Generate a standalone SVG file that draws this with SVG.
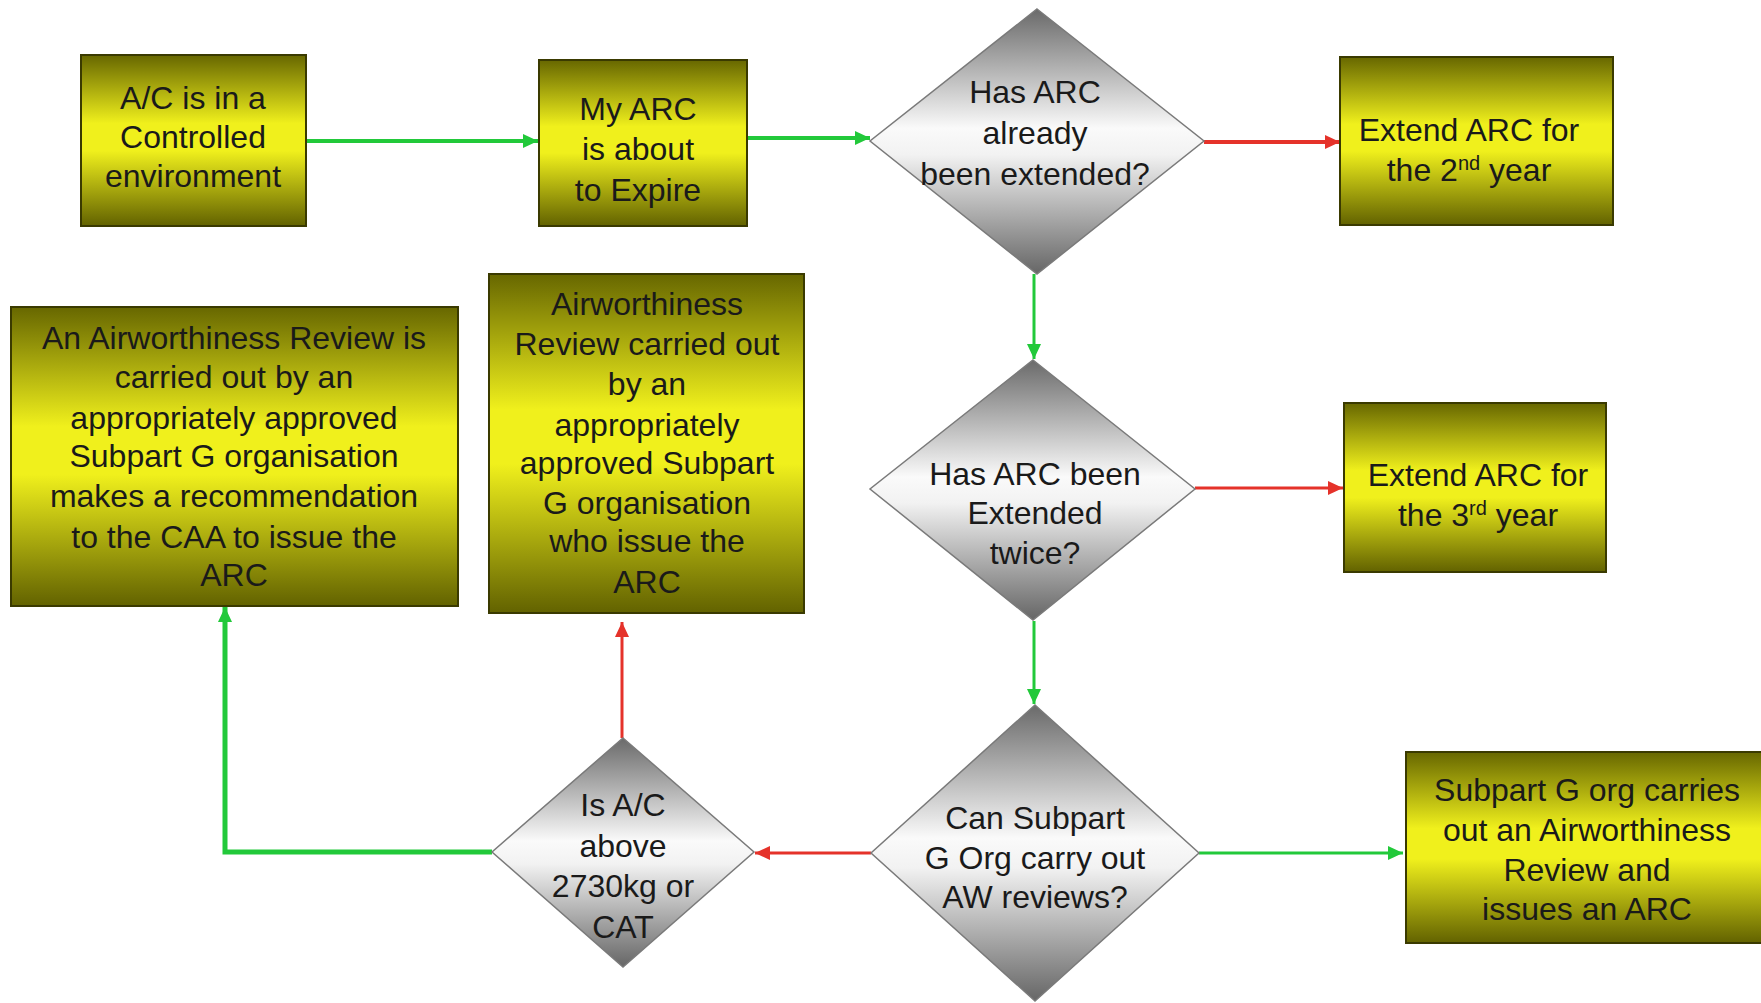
<svg xmlns="http://www.w3.org/2000/svg" width="1761" height="1003" viewBox="0 0 1761 1003">
<style>
.box{fill:url(#olive);stroke:#3a3a00;stroke-width:2}
.dia{fill:url(#gray);stroke:#7a7a7a;stroke-width:1.5}
text{font-family:"Liberation Sans",Arial,sans-serif;font-size:32px;fill:#1a1a1a;text-anchor:middle}
.g{stroke:#22c93a;fill:none}
.r{stroke:#e5322a;fill:none}
</style>
<defs>
<linearGradient id="olive" x1="0" y1="0" x2="0" y2="1">
<stop offset="0" stop-color="#676700"/>
<stop offset="0.4" stop-color="#f0f01c"/>
<stop offset="0.56" stop-color="#f0f01c"/>
<stop offset="1" stop-color="#626200"/>
</linearGradient>
<linearGradient id="gray" x1="0" y1="0" x2="0" y2="1">
<stop offset="0" stop-color="#6a6a6a"/>
<stop offset="0.45" stop-color="#fafafa"/>
<stop offset="0.55" stop-color="#f2f2f2"/>
<stop offset="1" stop-color="#666666"/>
</linearGradient>
<marker id="ag" markerUnits="userSpaceOnUse" markerWidth="16" markerHeight="16" viewBox="0 0 16 16" refX="15" refY="8" orient="auto">
<path d="M0,1 L15,8 L0,15 Z" fill="#22c93a"/>
</marker>
<marker id="ar" markerUnits="userSpaceOnUse" markerWidth="16" markerHeight="16" viewBox="0 0 16 16" refX="15" refY="8" orient="auto">
<path d="M0,1 L15,8 L0,15 Z" fill="#e5322a"/>
</marker>
</defs>
<rect width="1761" height="1003" fill="#ffffff"/>

<g id="connectors">
<line class="g" x1="306" y1="141" x2="538" y2="141" stroke-width="4" marker-end="url(#ag)"/>
<line class="g" x1="748" y1="138" x2="870" y2="138" stroke-width="4" marker-end="url(#ag)"/>
<line class="r" x1="1204" y1="142" x2="1340" y2="142" stroke-width="4" marker-end="url(#ar)"/>
<line class="g" x1="1034" y1="274" x2="1034" y2="359" stroke-width="3" marker-end="url(#ag)"/>
<line class="r" x1="1195" y1="488" x2="1343" y2="488" stroke-width="3" marker-end="url(#ar)"/>
<line class="g" x1="1034" y1="621" x2="1034" y2="704" stroke-width="3" marker-end="url(#ag)"/>
<line class="r" x1="871" y1="853" x2="755" y2="853" stroke-width="3" marker-end="url(#ar)"/>
<line class="g" x1="1199" y1="853" x2="1403" y2="853" stroke-width="3" marker-end="url(#ag)"/>
<polyline class="g" points="492,852 225,852 225,607" stroke-width="5" marker-end="url(#ag)"/>
<line class="r" x1="622" y1="738" x2="622" y2="622" stroke-width="3" marker-end="url(#ar)"/>
</g>

<g id="n1">
<rect class="box" x="81" y="55" width="225" height="171"/>
<text x="193" y="109">A/C is in a</text>
<text x="193" y="148">Controlled</text>
<text x="193" y="187">environment</text>
</g>

<g id="n2">
<rect class="box" x="539" y="60" width="208" height="166"/>
<text x="638" y="120">My ARC</text>
<text x="638" y="160">is about</text>
<text x="638" y="201">to Expire</text>
</g>

<g id="n3">
<polygon class="dia" points="1037,9 1204,141 1037,274 870,141"/>
<text x="1035" y="103">Has ARC</text>
<text x="1035" y="144">already</text>
<text x="1035" y="185">been extended?</text>
</g>

<g id="n4">
<rect class="box" x="1340" y="57" width="273" height="168"/>
<text x="1469" y="141">Extend ARC for</text>
<text x="1469" y="181">the 2<tspan font-size="20" dy="-11">nd</tspan><tspan dy="11"> year</tspan></text>
</g>

<g id="n5">
<polygon class="dia" points="1033,360 1195,489 1033,620 870,489"/>
<text x="1035" y="485">Has ARC been</text>
<text x="1035" y="524">Extended</text>
<text x="1035" y="564">twice?</text>
</g>

<g id="n6">
<rect class="box" x="1344" y="403" width="262" height="169"/>
<text x="1478" y="486">Extend ARC for</text>
<text x="1478" y="526">the 3<tspan font-size="20" dy="-11">rd</tspan><tspan dy="11"> year</tspan></text>
</g>

<g id="n7">
<polygon class="dia" points="1035,705 1199,853 1035,1001 871,853"/>
<text x="1035" y="829">Can Subpart</text>
<text x="1035" y="869">G Org carry out</text>
<text x="1035" y="908">AW reviews?</text>
</g>

<g id="n8">
<rect class="box" x="1406" y="752" width="360" height="191"/>
<text x="1587" y="801">Subpart G org carries</text>
<text x="1587" y="841">out an Airworthiness</text>
<text x="1587" y="881">Review and</text>
<text x="1587" y="920">issues an ARC</text>
</g>

<g id="n9">
<polygon class="dia" points="623,738 754,852 623,967 492,852"/>
<text x="623" y="816">Is A/C</text>
<text x="623" y="857">above</text>
<text x="623" y="897">2730kg or</text>
<text x="623" y="938">CAT</text>
</g>

<g id="n10">
<rect class="box" x="11" y="307" width="447" height="299"/>
<text x="234" y="349">An Airworthiness Review is</text>
<text x="234" y="388">carried out by an</text>
<text x="234" y="429">appropriately approved</text>
<text x="234" y="467">Subpart G organisation</text>
<text x="234" y="507">makes a recommendation</text>
<text x="234" y="548">to the CAA to issue the</text>
<text x="234" y="586">ARC</text>
</g>

<g id="n11">
<rect class="box" x="489" y="274" width="315" height="339"/>
<text x="647" y="315">Airworthiness</text>
<text x="647" y="355">Review carried out</text>
<text x="647" y="395">by an</text>
<text x="647" y="436">appropriately</text>
<text x="647" y="474">approved Subpart</text>
<text x="647" y="514">G organisation</text>
<text x="647" y="552">who issue the</text>
<text x="647" y="593">ARC</text>
</g>
</svg>
